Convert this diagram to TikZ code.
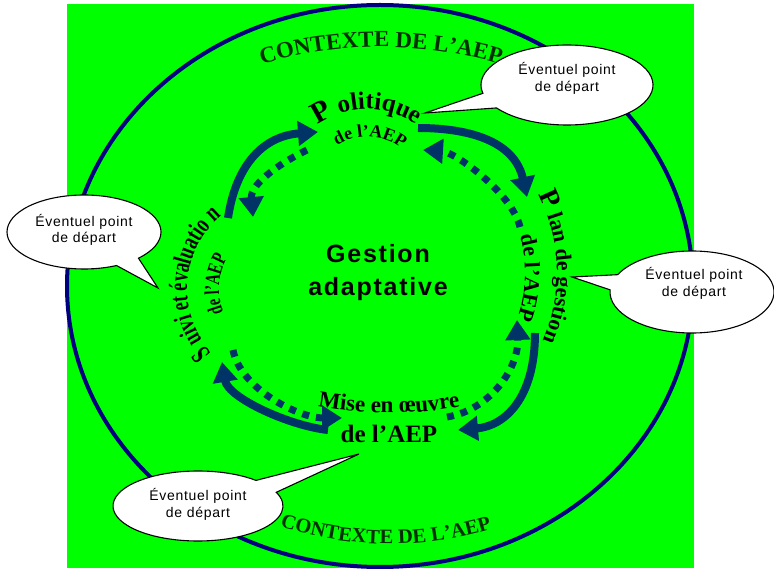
\documentclass[tikz,border=0pt]{standalone}
\usepackage{fontspec}
\setmainfont{Liberation Serif}
\newfontfamily\notefont{Liberation Sans}[LetterSpace=5]
\newfontfamily\centrefont{Liberation Sans}[LetterSpace=7]
\newfontfamily\narrowserif{Liberation Serif}[FakeStretch=0.7]
\usetikzlibrary{decorations.text,arrows.meta,calc}

\definecolor{fieldgreen}{RGB}{0,255,0}
\definecolor{ringblue}{RGB}{0,0,128}
\definecolor{cycleblue}{RGB}{0,51,102}
\definecolor{ctxgreen}{RGB}{0,48,0}

% type sizes for the curved labels
\newcommand\ctxfont{\bfseries\fontsize{23}{23}\selectfont\color{ctxgreen}}
\newcommand\ctxlowfont{\bfseries\fontsize{20.5}{20.5}\selectfont\color{ctxgreen}}
\newcommand\polcap{\bfseries\fontsize{30}{30}\selectfont}
\newcommand\polwords{\bfseries\fontsize{25}{25}\selectfont}
\newcommand\plancap{\bfseries\fontsize{28}{28}\selectfont}
\newcommand\planwords{\bfseries\fontsize{22}{22}\selectfont}
\newcommand\smallwords{\bfseries\fontsize{18}{18}\selectfont}
\newcommand\narrowcap{\narrowserif\bfseries\fontsize{28}{28}\selectfont}
\newcommand\narrowwords{\narrowserif\bfseries\fontsize{26}{26}\selectfont}
\newcommand\narrowsub{\narrowserif\bfseries\fontsize{21}{21}\selectfont}
\newcommand\misewords{\bfseries\fontsize{23}{23}\selectfont}

\tikzset{
  ring/.style={draw=ringblue, line width=4pt},
  cycleflow/.style={draw=cycleblue, line width=8pt, -{Triangle[length=20pt,width=24pt]}},
  backflow/.style={draw=cycleblue, line width=7pt, dash pattern=on 7pt off 7pt,
    -{Triangle[length=20pt,width=24pt]}},
  arctext/.style={decorate, decoration={text along path, text align=center, text={#1}}},
  bubble/.style={fill=white, draw=black, line width=1.1pt, line join=miter},
  note/.style={font=\notefont\fontsize{14}{16.5}\selectfont, align=center, inner sep=0pt},
}

\begin{document}
\begin{tikzpicture}[x=1pt,y=1pt]
\useasboundingbox (0,0) rectangle (774,568);

% background field and outer context ring
\fill[fieldgreen] (67,0) rectangle (694,564);
\draw[ring] (380,282) ellipse [x radius=313, y radius=281];

% centres of the label arcs
\coordinate (ctxTop) at (381,101);
\coordinate (ctxBot) at (390,374);
\coordinate (polC) at (367,373);
\coordinate (planC) at (385,295);
\coordinate (suiviC) at (282,279);
\coordinate (miseC) at (389,555);

% context labels
\path[arctext={|\ctxfont|CONTEXTE DE L’AEP}]
  ($(ctxTop)+(110:420)$) arc[start angle=110, end angle=70, radius=420];
\path[arctext={|\ctxlowfont|CONTEXTE DE L’AEP}]
  ($(ctxBot)+(244.3:350)$) arc[start angle=244.3, end angle=294.3, radius=350];

% stage labels
\path[arctext={|\polcap|P|\polwords| olitique}]
  ($(polC)+(140:86)$) arc[start angle=140, end angle=40, radius=86];
\path[arctext={|\smallwords|de l’AEP}]
  ($(polC)+(157:58)$) arc[start angle=157, end angle=17, radius=58];

\path[arctext={|\plancap|P|\planwords| lan de gestion}]
  ($(planC)+(52:172)$) arc[start angle=52, end angle=-48, radius=172];
\path[arctext={|\planwords|de l’AEP}]
  ($(planC)+(48:140)$) arc[start angle=48, end angle=-52, radius=140];

\path[arctext={|\misewords|Mise en œuvre}]
  ($(miseC)+(250:400)$) arc[start angle=250, end angle=290, radius=400];
\node[font=\bfseries\fontsize{25}{25}\selectfont, inner sep=0pt] (miseSub) at (389,134) {de l’AEP};

\path[arctext={|\narrowcap|S|\narrowwords| uivi et évaluatio n}]
  ($(suiviC)+(226:95)$) arc[start angle=226, end angle=126, radius=95];
\path[arctext={|\narrowsub|de l’AEP}]
  ($(suiviC)+(236:63)$) arc[start angle=236, end angle=116, radius=63];

% centre title
\node[font=\centrefont\bfseries\fontsize{25}{33}\selectfont, align=center] (centre) at (378,295) {Gestion\\adaptative};

% forward cycle
\coordinate (s1a) at (228,350); \coordinate (s1b) at (318,436);
\coordinate (s2a) at (418,440); \coordinate (s2b) at (527,371);
\coordinate (s3a) at (535,235); \coordinate (s3b) at (458,138);
\coordinate (s4a) at (328,138); \coordinate (s4b) at (222,206);
\draw[cycleflow] (s1a) .. controls (236,404) and (264,432) .. (s1b);
\draw[cycleflow] (s2a) .. controls (473,440) and (515,425) .. (s2b);
\draw[cycleflow] (s3a) .. controls (535,170) and (505,142) .. (s3b);
\draw[cycleflow] (s4a) .. controls (290,142) and (228,170) .. (s4b);

% feedback loops
\coordinate (d1a) at (307,418); \coordinate (d1b) at (253,351);
\coordinate (d2a) at (520,341); \coordinate (d2b) at (423,418);
\coordinate (d3a) at (447,151); \coordinate (d3b) at (517,248);
\coordinate (d4a) at (233,218); \coordinate (d4b) at (342,150);
\draw[backflow] (d1a) .. controls (284,407) and (250,385) .. (d1b);
\draw[backflow] (d2a) .. controls (512,375) and (455,416) .. (d2b);
\draw[backflow] (d3a) .. controls (490,158) and (519,200) .. (d3b);
\draw[backflow] (d4a) .. controls (240,180) and (298,150) .. (d4b);

% starting-point callouts
\coordinate (bubA) at (567,483); \coordinate (tipA) at (425,455);
\path[bubble] ($(bubA)+(215:86 and 40)$)
  arc[start angle=215, end angle=552, x radius=86, y radius=40] -- (tipA) -- cycle;
\node[note] (noteA) at (567,489.5) {Éventuel point\\de départ};

\coordinate (bubB) at (84,336); \coordinate (tipB) at (158,280);
\path[bubble] ($(bubB)+(-45:77 and 37)$)
  arc[start angle=-45, end angle=295, x radius=77, y radius=37] -- (tipB) -- cycle;
\node[note] (noteB) at (84,338) {Éventuel point\\de départ};

\coordinate (bubC) at (692,276); \coordinate (tipC) at (572,291);
\path[bubble] ($(bubC)+(177:82 and 41)$)
  arc[start angle=177, end angle=515, x radius=82, y radius=41] -- (tipC) -- cycle;
\node[note] (noteC) at (694,284.5) {Éventuel point\\de départ};

\coordinate (bubD) at (198,62); \coordinate (tipD) at (359,114);
\path[bubble] ($(bubD)+(47:85 and 35)$)
  arc[start angle=47, end angle=383, x radius=85, y radius=35] -- (tipD) -- cycle;
\node[note] (noteD) at (198,63.5) {Éventuel point\\de départ};
\end{tikzpicture}
\end{document}
